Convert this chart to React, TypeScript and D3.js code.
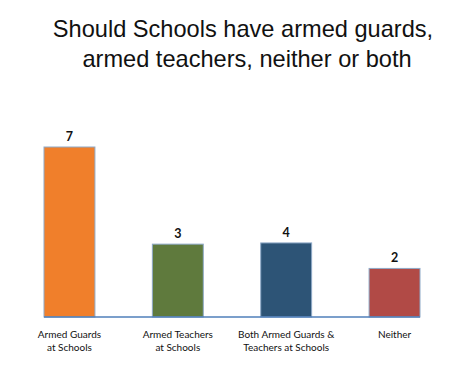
import { useEffect, useRef } from 'react';
import * as d3 from 'd3';

// chart data
const categories = ['Armed Guards at Schools', 'Armed Teachers at Schools', 'Both Armed Guards & Teachers at Schools', 'Neither'];
const categoryLines = [
  ['Armed Guards', 'at Schools'],
  ['Armed Teachers', 'at Schools'],
  ['Both Armed Guards &', 'Teachers at Schools'],
  ['Neither'],
];
// bar heights as drawn in the picture
const barHeights = [7, 3, 3.05, 2];
// numbers printed over the bars
const valueLabels = ['7', '3', '4', '2'];
const barColors = ['#F07F2B', '#5F7A3D', '#2D5476', '#B14A46'];
const titleLines = ['Should Schools have armed guards,', 'armed teachers, neither or both'];

export default function App() {
  const svgRef = useRef<SVGSVGElement>(null);

  useEffect(() => {
    const width = 474;
    const height = 369;
    const baseY = 317;

    d3.select(svgRef.current).selectAll('*').remove();

    const svg = d3.select(svgRef.current).attr('width', width).attr('height', height);

    svg.append('rect').attr('width', width).attr('height', height).attr('fill', '#fff');

    // Title
    svg.append('g')
      .selectAll('text')
      .data(titleLines)
      .enter()
      .append('text')
      .attr('x', (d, i) => (i === 0 ? 243 : 247))
      .attr('y', (d, i) => 37 + i * 30)
      .attr('text-anchor', 'middle')
      .style('font-family', 'Liberation Sans, Arial, sans-serif')
      .style('font-size', '23.6px')
      .style('fill', '#111')
      .text((d) => d);

    // Scales
    const x = d3.scaleBand().domain(categories).range([44, 420]).paddingInner(0.53).paddingOuter(0);
    const y = d3.scaleLinear().domain([0, 7]).range([baseY, 147]);

    // Bars
    svg.selectAll('.bar')
      .data(categories)
      .enter()
      .append('rect')
      .attr('class', 'bar')
      .attr('x', (d) => x(d)!)
      .attr('width', x.bandwidth())
      .attr('y', (d, i) => y(barHeights[i]))
      .attr('height', (d, i) => baseY - y(barHeights[i]))
      .attr('fill', (d, i) => barColors[i])
      .attr('stroke', '#8EA9C8')
      .attr('stroke-width', 1);

    // Axis line
    svg.append('line')
      .attr('x1', 44)
      .attr('x2', 420)
      .attr('y1', baseY)
      .attr('y2', baseY)
      .attr('stroke', '#4F7FBA')
      .attr('stroke-width', 1.5);

    // Value labels
    svg.selectAll('.label')
      .data(categories)
      .enter()
      .append('text')
      .attr('class', 'label')
      .attr('x', (d) => x(d)! + x.bandwidth() / 2)
      .attr('y', (d, i) => y(barHeights[i]) - 6)
      .attr('text-anchor', 'middle')
      .style('font-family', 'Lato, Open Sans, sans-serif')
      .style('font-size', '12.5px')
      .style('font-weight', 'bold')
      .style('fill', '#111')
      .text((d, i) => valueLabels[i]);

    // Category labels
    const cat = svg.selectAll('.cat')
      .data(categories)
      .enter()
      .append('text')
      .attr('class', 'cat')
      .attr('text-anchor', 'middle')
      .style('font-family', 'Lato, Open Sans, sans-serif')
      .style('font-size', '10px')
      .style('fill', '#111');

    cat.selectAll('tspan')
      .data((d, i) => categoryLines[i].map((t) => ({ t, cx: x(d)! + x.bandwidth() / 2 })))
      .enter()
      .append('tspan')
      .attr('x', (d) => d.cx)
      .attr('y', (d, i) => 338 + i * 13)
      .text((d) => d.t);
  }, []);

  return <svg ref={svgRef} style={{ position: 'absolute', left: 0, top: 0 }}></svg>;
}
